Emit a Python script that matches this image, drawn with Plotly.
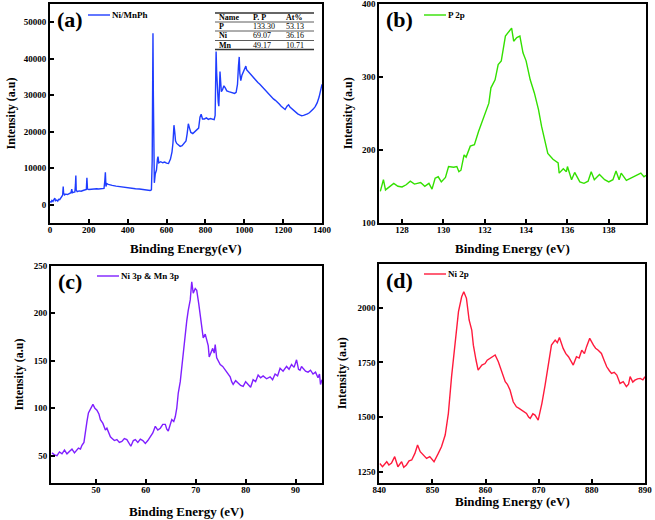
import plotly.graph_objects as go

# ---------------- data ----------------
a_energy = [0, 5, 10, 15, 20, 25, 28, 35, 40, 45, 50, 55, 60, 65, 68, 70, 75, 80, 90, 100, 108, 112, 115, 120, 128, 131, 133, 135, 140, 150, 160, 170, 180, 187, 190, 193, 200, 210, 220, 230, 240, 250, 260, 270, 278, 282, 285, 288, 292, 300, 310, 320, 340, 360, 380, 400, 420, 440, 460, 480, 500, 515, 522, 526, 528, 530, 532, 534, 537, 542, 548, 553, 556, 560, 570, 580, 590, 600, 610, 620, 628, 633, 638, 642, 646, 652, 660, 670, 680, 690, 700, 706, 712, 718, 725, 735, 745, 755, 765, 772, 778, 785, 795, 805, 815, 825, 835, 845, 850, 853, 855, 858, 862, 866, 869, 872, 875, 878, 882, 888, 895, 902, 910, 920, 930, 940, 950, 958, 965, 970, 974, 977, 982, 988, 995, 1002, 1008, 1012, 1020, 1030, 1040, 1050, 1060, 1070, 1080, 1090, 1100, 1110, 1120, 1130, 1140, 1150, 1160, 1170, 1180, 1190, 1200, 1210, 1220, 1228, 1235, 1245, 1255, 1265, 1275, 1285, 1295, 1305, 1315, 1325, 1335, 1345, 1355, 1365, 1375, 1385, 1395, 1400]
a_intensity = [900, 700, 1200, 900, 1400, 1800, 1100, 1300, 1000, 1500, 1400, 1800, 2000, 2600, 5000, 3200, 2700, 2900, 2800, 3100, 3300, 4300, 3300, 3400, 3500, 5500, 8000, 4000, 3600, 3800, 3700, 3900, 4000, 4200, 7400, 4300, 4200, 4300, 4400, 4300, 4400, 4300, 4400, 4300, 4500, 6500, 8900, 5000, 5800, 5600, 5400, 5300, 5100, 5000, 4800, 4700, 4500, 4400, 4300, 4200, 4000, 3900, 4100, 12000, 30000, 47000, 30000, 10000, 6000, 8500, 9500, 12500, 13200, 11500, 11800, 11500, 11700, 11400, 11300, 12500, 14500, 17000, 21800, 20000, 17500, 16800, 16500, 16000, 16200, 16800, 17500, 19500, 22200, 21000, 19800, 19500, 20000, 20500, 21000, 24000, 24800, 23500, 23500, 23800, 23400, 23600, 23500, 23300, 24500, 35000, 42000, 36000, 30000, 28000, 27000, 33000, 36500, 34000, 31000, 31500, 32600, 32000, 31200, 31000, 30800, 30600, 30500, 30800, 33000, 38000, 40500, 36000, 34000, 35500, 36500, 37500, 38000, 37000, 36500, 35800, 35200, 34600, 34000, 33500, 33000, 32400, 31800, 31200, 30600, 30100, 29600, 29000, 28600, 28200, 27600, 27000, 26400, 26100, 27000, 27400, 26800, 26300, 25800, 25300, 24900, 24600, 24400, 24500, 24600, 24900, 25200, 25600, 26200, 26900, 27900, 29500, 31800, 33000]

b_energy = [126.95, 127.1, 127.2, 127.4, 127.6, 127.8, 128.0, 128.2, 128.4, 128.6, 128.9, 129.1, 129.3, 129.45, 129.6, 129.75, 129.9, 130.1, 130.25, 130.5, 130.65, 130.75, 130.85, 131.0, 131.1, 131.3, 131.5, 131.7, 131.95, 132.2, 132.3, 132.5, 132.65, 132.8, 133.0, 133.15, 133.3, 133.4, 133.55, 133.7, 133.85, 134.0, 134.2, 134.4, 134.6, 134.75, 134.9, 135.05, 135.3, 135.55, 135.6, 135.8, 135.95, 136.0, 136.2, 136.35, 136.6, 136.8, 137.0, 137.15, 137.3, 137.55, 137.8, 138.0, 138.2, 138.35, 138.5, 138.6, 138.85, 139.05, 139.3, 139.55, 139.7, 139.8]
b_intensity = [143, 159, 145, 149, 154, 150, 149, 152, 157, 153, 155, 150, 154, 146, 161, 163, 156, 162, 177, 176, 177, 170, 172, 193, 190, 205, 207, 225, 246, 264, 285, 296, 317, 322, 356, 361, 367, 349, 354, 356, 333, 322, 296, 278, 255, 232, 214, 195, 187, 182, 168, 174, 170, 177, 159, 169, 156, 154, 157, 170, 159, 166, 159, 156, 159, 171, 159, 168, 158, 161, 164, 168, 163, 165]

c_energy = [41.2, 41.7, 42.2, 42.7, 43.2, 43.7, 44.2, 44.7, 45.2, 45.7, 46.1, 46.5, 46.9, 47.2, 47.6, 47.9, 48.2, 48.5, 48.9, 49.4, 49.8, 50.2, 50.6, 50.9, 51.4, 51.9, 52.2, 52.5, 52.9, 53.2, 53.7, 54.2, 54.7, 55.2, 55.7, 56.2, 56.6, 57.0, 57.5, 57.9, 58.4, 58.9, 59.4, 59.9, 60.4, 60.9, 61.4, 61.9, 62.4, 62.9, 63.4, 63.9, 64.2, 64.5, 64.9, 65.2, 65.6, 65.9, 66.2, 66.5, 66.9, 67.2, 67.6, 67.9, 68.2, 68.5, 68.9, 69.2, 69.5, 69.9, 70.2, 70.6, 70.9, 71.2, 71.5, 71.9, 72.2, 72.5, 72.7, 73.1, 73.4, 73.7, 73.9, 74.2, 74.6, 74.9, 75.4, 75.9, 76.4, 76.9, 77.2, 77.5, 78.0, 78.5, 79.0, 79.5, 80.0, 80.5, 81.0, 81.5, 82.0, 82.5, 83.0, 83.5, 84.2, 84.9, 85.4, 85.9, 86.4, 86.9, 87.5, 88.2, 88.7, 89.2, 89.7, 90.2, 90.6, 90.9, 91.2, 91.5, 92.0, 92.5, 93.0, 93.5, 94.0, 94.5, 94.8, 95.0, 95.3]
c_intensity = [53, 51, 50, 54, 52, 56, 52, 55, 57, 53, 56, 58, 57, 61, 64, 77, 86, 95, 99, 104, 100, 98, 94, 88, 84, 77, 79, 75, 70, 68.5, 66, 67, 64, 65, 68, 67, 63, 60, 66, 67, 64, 67.5, 66, 63, 66, 70, 74, 81, 77, 79, 83, 83, 78, 76, 84, 88, 86, 91, 100, 116, 128, 144, 162, 179, 192, 203, 214, 233, 221, 226, 224, 210, 198, 188, 174, 178, 170, 166, 154, 160, 163, 158, 167, 153, 149, 146, 144, 140, 137, 133, 128, 125, 129, 127, 124, 123, 128, 125, 122, 130, 128, 135, 132, 134, 131, 133, 130, 136, 134, 142, 139, 144, 141, 146, 143, 151, 141, 140, 144, 142, 139, 138, 140, 136, 138, 132, 136, 125, 130]

d_energy = [840.1, 840.6, 841.4, 841.8, 842.3, 842.9, 843.5, 844.2, 844.6, 845.1, 845.6, 846.1, 846.7, 847.2, 847.7, 848.3, 848.9, 849.5, 850.3, 851.1, 851.7, 852.4, 853.0, 853.6, 854.2, 854.9, 855.5, 855.9, 856.4, 856.9, 857.4, 857.7, 858.2, 858.6, 859.3, 859.9, 860.3, 860.8, 861.3, 861.8, 862.4, 863.0, 863.7, 864.1, 864.6, 865.2, 865.8, 866.3, 866.8, 867.2, 867.7, 868.1, 868.4, 868.9, 869.3, 869.9, 870.6, 871.2, 871.8, 872.4, 873.1, 873.5, 873.9, 874.6, 875.1, 875.6, 876.1, 876.5, 877.1, 877.6, 878.1, 878.6, 879.0, 879.6, 880.3, 880.7, 881.2, 881.8, 882.3, 882.8, 883.3, 883.7, 884.2, 884.7, 885.3, 885.9, 886.5, 886.9, 887.2, 887.7, 888.1, 888.6, 889.1, 889.6, 890.0]
d_intensity = [1288, 1273, 1296, 1281, 1290, 1319, 1273, 1296, 1270, 1281, 1300, 1304, 1334, 1372, 1342, 1326, 1311, 1319, 1296, 1334, 1364, 1418, 1517, 1685, 1837, 1982, 2050, 2073, 2043, 1944, 1898, 1829, 1761, 1715, 1738, 1745, 1760, 1768, 1775, 1784, 1753, 1707, 1662, 1650, 1624, 1570, 1547, 1540, 1532, 1525, 1517, 1500, 1494, 1515, 1509, 1486, 1563, 1646, 1745, 1829, 1852, 1840, 1864, 1814, 1790, 1776, 1755, 1738, 1776, 1770, 1806, 1790, 1822, 1860, 1829, 1815, 1806, 1791, 1760, 1730, 1712, 1700, 1705, 1692, 1654, 1662, 1639, 1650, 1685, 1660, 1669, 1675, 1677, 1670, 1685]

table_header = ["Name", "P. P", "At%"]
table_names = ["P", "Ni", "Mn"]
table_pp = ["133.30", "69.07", "49.17"]
table_at = ["53.13", "36.16", "10.71"]

# ---------------- layout helpers ----------------
W, H = 655, 520
def px(x):
    return x / W
def py(y):
    return 1 - y / H

SERIF = "Liberation Serif"

panels = [
    dict(name="Ni/MnPh", x=a_energy, y=a_intensity, color="#1f3dff", label="(a)",
         box=(50, 4, 322, 223), xr=[0, 1400], yr=[-5000, 55000], xd=200, yd=10000, y0=0,
         xt="Binding Energy(eV)", xt_y=248, yt_x=10, leg=(88, 15)),
    dict(name="P 2p", x=b_energy, y=b_intensity, color="#33e000", label="(b)",
         box=(379.3, 4, 646, 222.7), xr=[126.9, 139.8], yr=[100, 400], xd=2, yd=100, y0=100,
         xt="Binding Energy (eV)", xt_y=248, yt_x=348, leg=(424, 15)),
    dict(name="Ni 3p & Mn 3p", x=c_energy, y=c_intensity, color="#7f1fff", label="(c)",
         box=(51, 265.7, 322, 483.3), xr=[41, 95.3], yr=[21, 250], xd=10, yd=50, y0=50,
         xt="Binding Energy (eV)", xt_y=511, yt_x=18, leg=(97, 276)),
    dict(name="Ni 2p", x=d_energy, y=d_intensity, color="#ff1a3c", label="(d)",
         box=(379.3, 264, 645, 482.7), xr=[840, 890], yr=[1200, 2200], xd=10, yd=250, y0=1250,
         xt="Binding Energy (eV)", xt_y=501, yt_x=342, leg=(424, 274)),
]

fig = go.Figure()
annotations = []
shapes = []

for i, p in enumerate(panels):
    n = "" if i == 0 else str(i + 1)
    x0, y0, x1, y1 = p["box"]
    fig.add_trace(go.Scatter(x=p["x"], y=p["y"], mode="lines", name=p["name"],
                             line=dict(color=p["color"], width=1.4),
                             xaxis="x" + n, yaxis="y" + n, showlegend=False))
    axis_common = dict(showline=True, linecolor="black", linewidth=2, mirror=True,
                       ticks="inside", ticklen=4, tickwidth=2, tickcolor="black",
                       showgrid=False, zeroline=False, automargin=False,
                       tickformat="d", ticklabeloverflow="allow",
                       tickfont=dict(family=SERIF, size=9, color="black", weight="bold"))
    fig.update_layout({
        "xaxis" + n: dict(domain=[px(x0), px(x1)], range=p["xr"], dtick=p["xd"],
                          tick0=0, anchor="y" + n, ticklabelstandoff=-3, **axis_common),
        "yaxis" + n: dict(domain=[py(y1), py(y0)], range=p["yr"], dtick=p["yd"],
                          tick0=p["y0"], anchor="x" + n, **axis_common),
    })
    cx = (x0 + x1) / 2
    cy = (y0 + y1) / 2
    annotations.append(dict(text=p["xt"], x=px(cx), y=py(p["xt_y"]), xref="paper", yref="paper",
                            showarrow=False, font=dict(family=SERIF, size=13, color="black", weight="bold"),
                            xanchor="center", yanchor="middle"))
    annotations.append(dict(text="Intensity (a.u)", x=px(p["yt_x"]), y=py(cy), xref="paper", yref="paper",
                            showarrow=False, textangle=-90,
                            font=dict(family=SERIF, size=12, color="black", weight="bold"),
                            xanchor="center", yanchor="middle"))
    # panel label
    annotations.append(dict(text=p["label"], x=px(x0 + 5), y=py(y0 + 16), xref="paper", yref="paper",
                            showarrow=False, font=dict(family=SERIF, size=22, color="black", weight="bold"),
                            xanchor="left", yanchor="middle"))
    # legend (line sample + text)
    lx, ly = p["leg"]
    shapes.append(dict(type="line", xref="paper", yref="paper", x0=px(lx), x1=px(lx + 22),
                       y0=py(ly), y1=py(ly), line=dict(color=p["color"], width=1.4)))
    annotations.append(dict(text=p["name"], x=px(lx + 22), y=py(ly), xref="paper", yref="paper",
                            showarrow=False, font=dict(family=SERIF, size=9, color="black", weight="bold"),
                            xanchor="left", yanchor="middle"))

# table in panel (a)
t_left, t_right = 215, 314
line_ys = [13, 22, 31, 40.5, 49.5]
for k, yy in enumerate(line_ys):
    shapes.append(dict(type="line", xref="paper", yref="paper", x0=px(t_left), x1=px(t_right),
                       y0=py(yy), y1=py(yy),
                       line=dict(color="#333333", width=1.6 if k in (0, 4) else 0.8)))
col_x = [217, 251, 284]
row_y = [17.5, 26.5, 35.8, 45]
for c, txt in enumerate(table_header):
    annotations.append(dict(text=txt, x=px(col_x[c]), y=py(row_y[0]), xref="paper", yref="paper",
                            showarrow=False, xanchor="left", yanchor="middle",
                            font=dict(family=SERIF, size=8, color="black", weight="bold")))
for r in range(3):
    annotations.append(dict(text=table_names[r], x=px(col_x[0]), y=py(row_y[r + 1]), xref="paper", yref="paper",
                            showarrow=False, xanchor="left", yanchor="middle",
                            font=dict(family=SERIF, size=8, color="black", weight="bold")))
    annotations.append(dict(text=table_pp[r], x=px(col_x[1]), y=py(row_y[r + 1]), xref="paper", yref="paper",
                            showarrow=False, xanchor="left", yanchor="middle",
                            font=dict(family=SERIF, size=8, color="black")))
    annotations.append(dict(text=table_at[r], x=px(col_x[2]), y=py(row_y[r + 1]), xref="paper", yref="paper",
                            showarrow=False, xanchor="left", yanchor="middle",
                            font=dict(family=SERIF, size=8, color="black")))

fig.update_layout(width=W, height=H, margin=dict(l=0, r=0, t=0, b=0),
                  paper_bgcolor="white", plot_bgcolor="white",
                  annotations=annotations, shapes=shapes, showlegend=False)

fig.write_html("out.html", config={"displayModeBar": False},
               post_script="document.body.style.margin='0';document.body.style.overflow='hidden';")
